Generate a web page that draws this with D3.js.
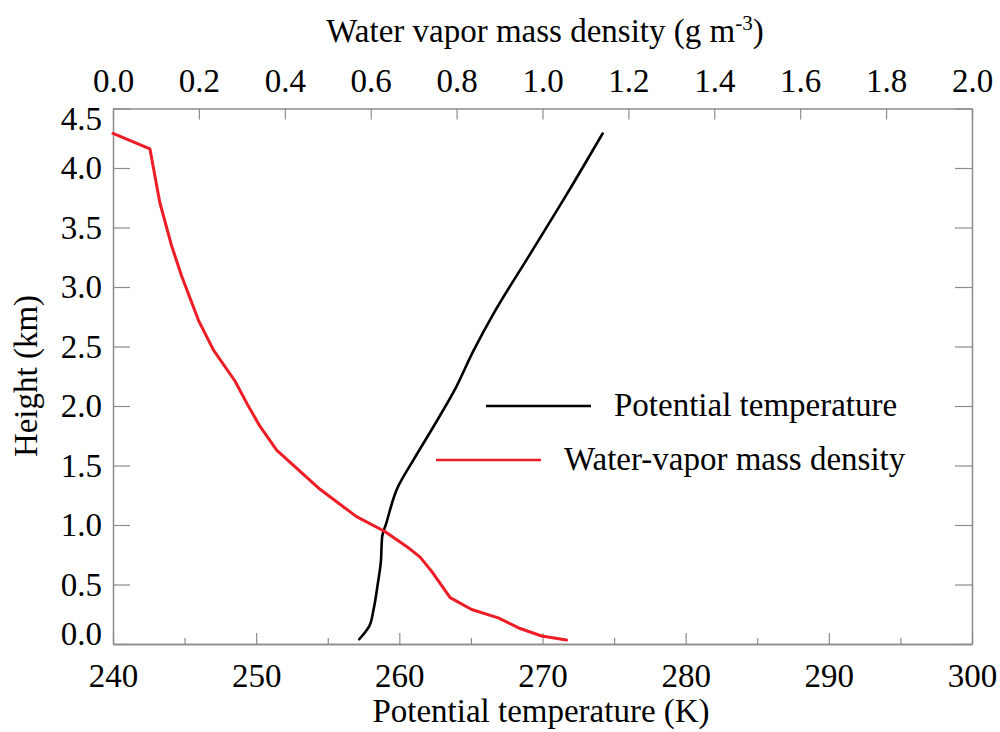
<!DOCTYPE html>
<html>
<head>
<meta charset="utf-8">
<script src="https://cdn.jsdelivr.net/npm/d3@7"></script>
<style>
  body { margin: 0; background: #fff; }
  text { font-family: "Liberation Serif", "Times New Roman", serif; fill: #000; }
</style>
</head>
<body>
<div id="chart"></div>
<script>
// potential temperature profile (K vs km)
var thetaK = [257.2, 257.9, 258.2, 258.5, 258.7, 258.8, 259.1, 259.9, 261.0, 262.4, 263.8, 265.2, 266.6, 269.1, 271.7, 274.2];
var thetaH = [0.04, 0.15, 0.29, 0.51, 0.68, 0.90, 1.02, 1.32, 1.55, 1.83, 2.12, 2.47, 2.78, 3.27, 3.78, 4.29];

// water vapor mass density profile (g m-3 vs km)
var rhoV = [0.000, 0.086, 0.109, 0.137, 0.160, 0.199, 0.234, 0.284, 0.312, 0.342, 0.381, 0.482, 0.567, 0.633, 0.691, 0.715, 0.742, 0.785, 0.835, 0.897, 0.948, 0.998, 1.056];
var rhoH = [4.29, 4.16, 3.71, 3.34, 3.09, 2.72, 2.47, 2.21, 2.02, 1.83, 1.63, 1.30, 1.07, 0.945, 0.80, 0.73, 0.61, 0.39, 0.29, 0.22, 0.13, 0.067, 0.034];

var tempTicks = [240, 250, 260, 270, 280, 290, 300];
var tempMinor = [245, 255, 265, 275, 285, 295];
var densTicks = [0.0, 0.2, 0.4, 0.6, 0.8, 1.0, 1.2, 1.4, 1.6, 1.8, 2.0];
var heightTicks = [0.0, 0.5, 1.0, 1.5, 2.0, 2.5, 3.0, 3.5, 4.0, 4.5];

var legendNames = ["Potential temperature", "Water-vapor mass density"];
var legendColors = ["#000000", "#ee1c25"];

(function() {
  var width = 1000,
      height = 732;
  var left = 113, right = 972, top = 108.5, bottom = 644;
  var axisColor = "#8c8c8c";
  var fontSize = "33px";

  var svg = d3.select("#chart")
    .append("svg")
    .attr("width", width)
    .attr("height", height);

  var x = d3.scaleLinear().domain([240, 300]).range([left, right]);
  var x2 = d3.scaleLinear().domain([0, 2]).range([left, right]);
  var y = d3.scaleLinear().domain([0, 4.5]).range([bottom, top]);

  // axes, ticks pointing inward
  svg.append("g")
    .attr("transform", "translate(0," + bottom + ")")
    .call(d3.axisBottom(x).tickValues(tempTicks).tickSizeInner(-11).tickSizeOuter(0).tickPadding(20).tickFormat(d3.format("d")));

  svg.append("g")
    .attr("transform", "translate(0," + bottom + ")")
    .call(d3.axisBottom(x).tickValues(tempMinor).tickSizeInner(-6).tickSizeOuter(0).tickFormat(""));

  svg.append("g")
    .attr("transform", "translate(0," + top + ")")
    .call(d3.axisTop(x2).tickValues(densTicks).tickSizeInner(-11).tickSizeOuter(0).tickPadding(17).tickFormat(d3.format(".1f")));

  var gLeft = svg.append("g")
    .attr("transform", "translate(" + left + ",0)")
    .call(d3.axisLeft(y).tickValues(heightTicks).tickSizeInner(-17).tickSizeOuter(0).tickPadding(11).tickFormat(d3.format(".1f")));

  svg.append("g")
    .attr("transform", "translate(" + right + ",0)")
    .call(d3.axisRight(y).tickValues(heightTicks).tickSizeInner(-17).tickSizeOuter(0).tickFormat(""));

  // end labels pulled inside the frame
  gLeft.selectAll(".tick text")
    .attr("y", function(d) {
      if (d === 0) return -10;
      if (d === 4.5) return 10;
      return 0;
    });

  svg.selectAll(".domain").attr("stroke", axisColor).attr("stroke-width", 1.5);
  svg.selectAll(".tick line").attr("stroke", axisColor).attr("stroke-width", 1.2);
  svg.selectAll(".tick text")
    .attr("fill", "#000")
    .style("font-family", "'Liberation Serif', serif")
    .style("font-size", fontSize);

  // axis titles
  svg.append("text")
    .attr("x", 541)
    .attr("y", 722)
    .attr("text-anchor", "middle")
    .style("font-size", fontSize)
    .text("Potential temperature (K)");

  var topTitle = svg.append("text")
    .attr("x", 545)
    .attr("y", 42)
    .attr("text-anchor", "middle")
    .style("font-size", fontSize);
  topTitle.append("tspan").text("Water vapor mass density (g m");
  topTitle.append("tspan").attr("dy", -12).style("font-size", "21px").text("-3");
  topTitle.append("tspan").attr("dy", 12).text(")");

  svg.append("text")
    .attr("transform", "translate(37,376) rotate(-90)")
    .attr("text-anchor", "middle")
    .style("font-size", fontSize)
    .text("Height (km)");

  // profiles
  var thetaLine = d3.line()
    .curve(d3.curveMonotoneY)
    .x(function(d, i) { return x(thetaK[i]); })
    .y(function(d, i) { return y(thetaH[i]); });

  var rhoLine = d3.line()
    .x(function(d, i) { return x2(rhoV[i]); })
    .y(function(d, i) { return y(rhoH[i]); });

  svg.append("path")
    .attr("d", thetaLine(thetaK))
    .attr("fill", "none")
    .attr("stroke", legendColors[0])
    .attr("stroke-width", 2.6)
    .attr("stroke-linejoin", "round")
    .attr("stroke-linecap", "round");

  svg.append("path")
    .attr("d", rhoLine(rhoV))
    .attr("fill", "none")
    .attr("stroke", legendColors[1])
    .attr("stroke-width", 3)
    .attr("stroke-linejoin", "round")
    .attr("stroke-linecap", "round");

  // legend
  var legendX = [486, 436];
  var legendY = [406, 460];
  var legend = svg.selectAll(".legend")
    .data(legendNames)
    .enter()
    .append("g")
    .attr("class", "legend")
    .attr("transform", function(d, i) {
      return "translate(" + legendX[i] + "," + legendY[i] + ")";
    });

  legend.append("line")
    .attr("x1", 0)
    .attr("x2", 105)
    .attr("stroke", function(d, i) { return legendColors[i]; })
    .attr("stroke-width", 2.6);

  legend.append("text")
    .attr("x", 128)
    .attr("y", 10)
    .style("font-size", fontSize)
    .text(function(d) { return d; });
})();
</script>
</body>
</html>
